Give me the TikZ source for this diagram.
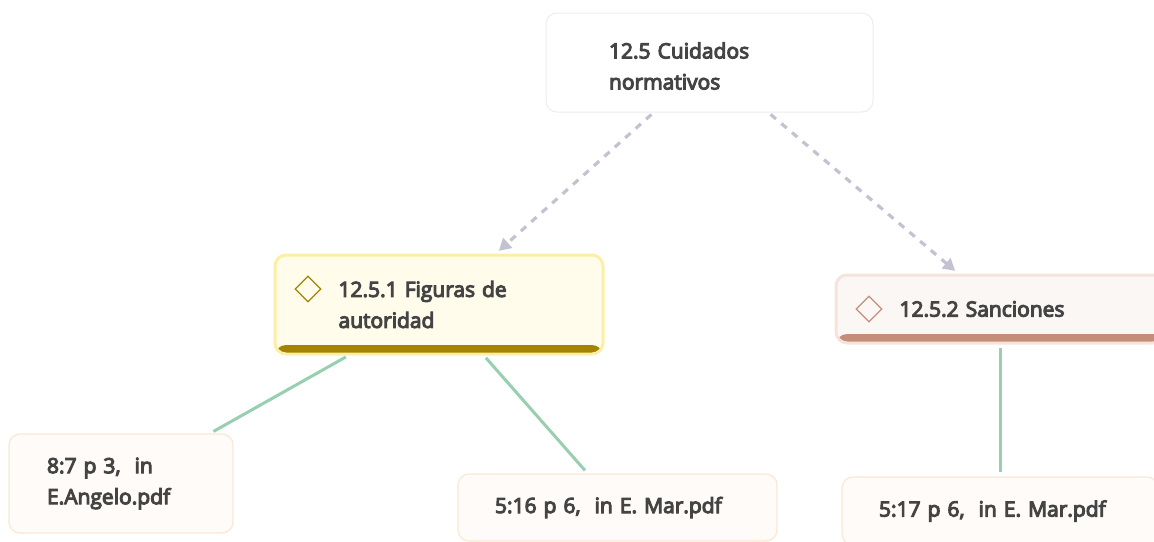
\documentclass[tikz,border=0pt]{standalone}
\usepackage{fontspec}
\setmainfont[FakeBold=5,WordSpace=0.7]{Open Sans}
\usetikzlibrary{arrows.meta,shapes.geometric}
\definecolor{inktext}{HTML}{444444}
\definecolor{dashgrey}{HTML}{C2C2D2}
\definecolor{linkgreen}{HTML}{97CFB0}
\definecolor{figborder}{HTML}{FBEFA8}
\definecolor{figfill}{HTML}{FFFCEC}
\definecolor{figbar}{HTML}{A58300}
\definecolor{sanborder}{HTML}{F6E4DC}
\definecolor{sanfill}{HTML}{FAF7F5}
\definecolor{sanbar}{HTML}{C48E7A}
\definecolor{leafborder}{HTML}{FBE8D2}
\definecolor{leaffill}{HTML}{FEFBF8}
\tikzset{
  box/.style={rectangle, rounded corners=11pt, align=left, text=inktext, inner xsep=0pt,
    font=\fontsize{21}{31}\selectfont},
  toptopic/.style={box, draw=black!7, line width=1pt, fill=white, minimum width=327pt, minimum height=99pt, text width=201pt,
    execute at begin node={\rule{0pt}{23pt}}},
  leafbox/.style={box, draw=leafborder, line width=1.2pt, fill=leaffill},
  codebox/.style n args={3}{box, draw=#1, line width=3pt, fill=#2, minimum width=328pt, text width=201pt,
    path picture={\fill[#3] ([yshift=9pt]path picture bounding box.south west) rectangle (path picture bounding box.south east);}},
  icon/.style={diamond, draw=#1, line width=1.2pt, fill=none, minimum size=26pt, inner sep=0pt},
  dashlink/.style={draw=dashgrey, line width=3.2pt, dash pattern=on 7pt off 7pt, shorten <=3pt, shorten >=4pt,
    -{Triangle[length=12pt,width=13pt,fill=dashgrey]}},
  greenlink/.style={draw=linkgreen, line width=3pt, shorten <=3pt, shorten >=4pt}
}
\begin{document}
\begin{tikzpicture}[x=1pt,y=-1pt]
  \useasboundingbox (0,0) rectangle (1154,541);
  \node[toptopic] (cuidados) at (709.5,62.5) {12.5 Cuidados\\normativos};
  \node[codebox={figborder}{figfill}{figbar}, minimum height=99pt] (figuras) at (439,304.5) {12.5.1 Figuras de\\autoridad};
  \node[codebox={sanborder}{sanfill}{sanbar}, minimum height=68pt] (sanciones) at (1000,309) {12.5.2 Sanciones};
  \node[leafbox, minimum width=224pt, minimum height=99pt, text width=148pt] (angelo) at (121,483.5) {8:7 p 3,~ in\\E.Angelo.pdf};
  \node[leafbox, minimum width=319pt, minimum height=67pt, text width=245pt] (mar) at (617.5,507.5) {5:16 p 6,~ in E. Mar.pdf};
  \node[leafbox, minimum width=316pt, minimum height=68pt, text width=242pt] (marb) at (1000,511) {5:17 p 6,~ in E. Mar.pdf};
  \node[icon={figbar}] (figicon) at (308,289) {};
  \node[icon={sanbar}] (sanicon) at (869,309) {};
  \draw[dashlink] (cuidados) -- (figuras);
  \draw[dashlink] (cuidados) -- (sanciones);
  \draw[greenlink] (figuras) -- (angelo);
  \draw[greenlink] (figuras) -- (mar);
  \draw[greenlink] (sanciones) -- (marb);
\end{tikzpicture}
\end{document}
